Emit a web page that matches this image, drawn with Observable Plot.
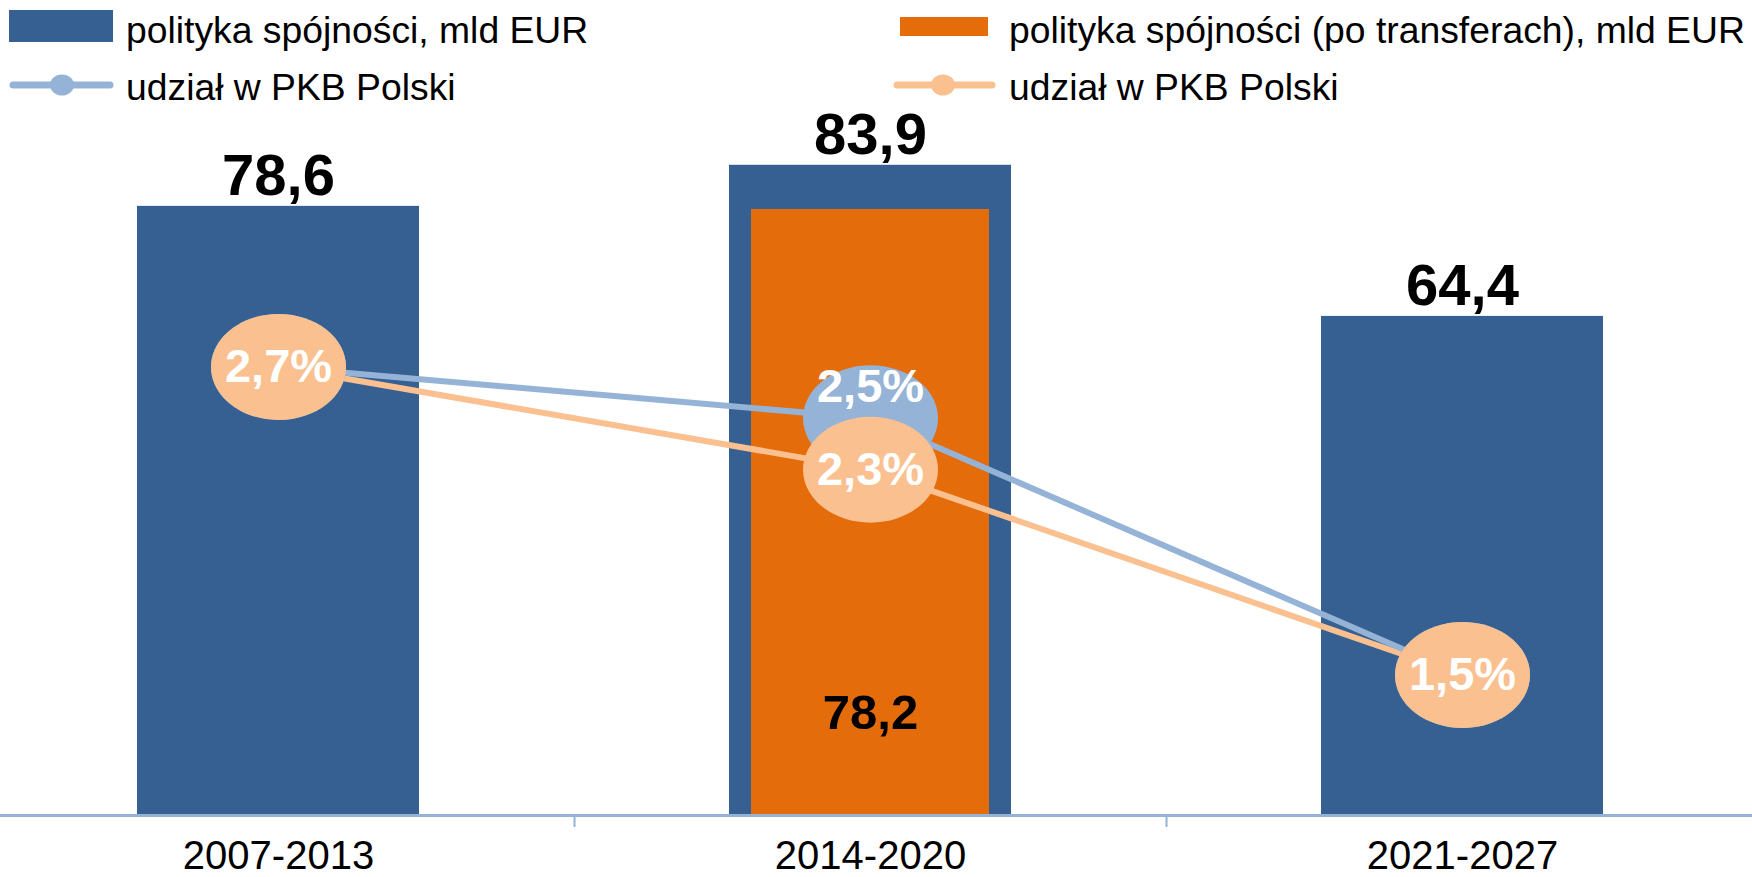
<!DOCTYPE html>
<html>
<head>
<meta charset="utf-8">
<script src="https://cdn.jsdelivr.net/npm/d3@7"></script>
<script src="https://cdn.jsdelivr.net/npm/@observablehq/plot@0.6"></script>
<style>
  html, body { margin: 0; padding: 0; background: #fff; }
  #wrap { position: relative; width: 1752px; height: 877px; overflow: hidden; font-family: "Liberation Sans", Arial, sans-serif; }
  #legend { position: absolute; left: 0; top: 0; overflow: visible; }
  #chart, #overlay { position: absolute; left: 0; top: 100px; }
</style>
</head>
<body>
<div id="wrap">
  <svg id="legend" width="1752" height="110"></svg>
  <div id="chart"></div>
  <div id="overlay"></div>
</div>
<script>
// ---- data ----
const periods = ["2007-2013", "2014-2020", "2021-2027"];
const cohesion = [78.6, 83.9, 64.4];                 // polityka spójności, mld EUR
const cohesionAfterPeriods = ["2014-2020"];
const cohesionAfter = [78.2];                        // po transferach, mld EUR
const gdpShare = [2.7, 2.5, 1.5];                     // udział w PKB Polski (%)
const gdpShareAfter = [2.7, 2.3, 1.5];                // udział w PKB Polski po transferach (%)
const legendLabels = [
  "polityka spójności, mld EUR",
  "udział w PKB Polski",
  "polityka spójności (po transferach), mld EUR",
  "udział w PKB Polski"
];

const C_BAR = "#366092", C_BAR2 = "#E46C0A", C_LINE = "#95B3D7", C_LINE2 = "#FAC090";
const FONT = "'Liberation Sans', Arial, sans-serif";
const fmt = v => v.toFixed(1).replace(".", ",");

const bars = periods.map((p, i) => ({period: p, value: cohesion[i]}));
const bars2 = cohesionAfterPeriods.map((p, i) => ({period: p, value: cohesionAfter[i]}));
const pctA = periods.map((p, i) => ({period: p, v: gdpShare[i], other: gdpShareAfter[i]}));
const pctB = periods.map((p, i) => ({period: p, v: gdpShareAfter[i]}));

// ---- legend ----
const lg = d3.select("#legend");
lg.append("rect").attr("x", 9).attr("y", 10).attr("width", 104).attr("height", 32).attr("fill", C_BAR);
lg.append("rect").attr("x", 900).attr("y", 17).attr("width", 88).attr("height", 19).attr("fill", C_BAR2);
[[13, 110, 62, C_LINE], [897, 992, 943, C_LINE2]].forEach(([x1, x2, cx, c]) => {
  lg.append("line").attr("x1", x1).attr("x2", x2).attr("y1", 85).attr("y2", 85)
    .attr("stroke", c).attr("stroke-width", 7).attr("stroke-linecap", "round");
  lg.append("ellipse").attr("cx", cx).attr("cy", 85).attr("rx", 12).attr("ry", 10.5).attr("fill", c);
});
[[126, 43, 0], [126, 100, 1], [1009, 43, 2], [1009, 100, 3]].forEach(([x, y, i]) => {
  lg.append("text").attr("x", x).attr("y", y).attr("font-family", FONT).attr("font-size", 37.3)
    .attr("fill", "#000").text(legendLabels[i]);
});

// ---- scales shared ----
const W = 1752, H = 777, MB = 62;
const xScale = {domain: periods, range: [-19, 1759], paddingInner: 0.524, paddingOuter: 0.262, axis: null};

// ellipse symbol
const ellipse = {
  draw(ctx) {
    const rx = 67.5, ry = 53, k = 0.5522847498;
    ctx.moveTo(rx, 0);
    ctx.bezierCurveTo(rx, ry * k, rx * k, ry, 0, ry);
    ctx.bezierCurveTo(-rx * k, ry, -rx, ry * k, -rx, 0);
    ctx.bezierCurveTo(-rx, -ry * k, -rx * k, -ry, 0, -ry);
    ctx.bezierCurveTo(rx * k, -ry, rx, -ry * k, rx, 0);
    ctx.closePath();
  }
};

const chart = Plot.plot({
  width: W, height: H,
  marginTop: 0, marginBottom: MB, marginLeft: 0, marginRight: 0,
  style: {fontFamily: FONT, background: "transparent", color: "#000", overflow: "visible"},
  x: {...xScale},
  y: {domain: [0, 92.26], axis: null},
  marks: [
    Plot.barY(bars, {x: "period", y: "value", fill: C_BAR}),
    Plot.barY(bars2, {x: "period", y: "value", fill: C_BAR2, insetLeft: 22, insetRight: 22}),
    Plot.ruleY([0], {stroke: C_LINE, strokeWidth: 3}),
    Plot.axisX(periods.slice(0, 2), {tickSize: 12, dx: 296, text: null, label: null, stroke: C_LINE, strokeWidth: 2, strokeOpacity: 1}),
    Plot.axisX({tickSize: 0, tickPadding: 25, fontSize: 40, label: null, fill: "#000"}),
    Plot.text(bars, {x: "period", y: "value", text: d => fmt(d.value), lineAnchor: "bottom", dy: -11,
      fontSize: 58, fontWeight: "bold", fill: "#000"}),
    Plot.text(bars2, {x: "period", frameAnchor: "bottom", text: d => fmt(d.value), lineAnchor: "bottom", dy: -87,
      fontSize: 49, fontWeight: "bold", fill: "#000"})
  ]
});
document.getElementById("chart").append(chart);

const overlay = Plot.plot({
  width: W, height: H,
  marginTop: 0, marginBottom: MB, marginLeft: 0, marginRight: 0,
  style: {fontFamily: FONT, background: "transparent", overflow: "visible"},
  x: {...xScale},
  y: {domain: [0.9526, 3.738], axis: null},
  marks: [
    Plot.line(pctB, {x: "period", y: "v", stroke: C_LINE2, strokeWidth: 6}),
    Plot.line(pctA, {x: "period", y: "v", stroke: C_LINE, strokeWidth: 6}),
    Plot.dot(pctA, {x: "period", y: "v", symbol: ellipse, fill: C_LINE, stroke: "none"}),
    Plot.text(pctA.filter(d => d.v !== d.other), {x: "period", y: "v", text: d => fmt(d.v) + "%", dy: -31,
      fontSize: 47, fontWeight: "bold", fill: "#fff"}),
    Plot.dot(pctB, {x: "period", y: "v", symbol: ellipse, fill: C_LINE2, stroke: "none"}),
    Plot.text(pctB, {x: "period", y: "v", text: d => fmt(d.v) + "%",
      fontSize: 47, fontWeight: "bold", fill: "#fff"})
  ]
});
document.getElementById("overlay").append(overlay);
</script>
</body>
</html>
